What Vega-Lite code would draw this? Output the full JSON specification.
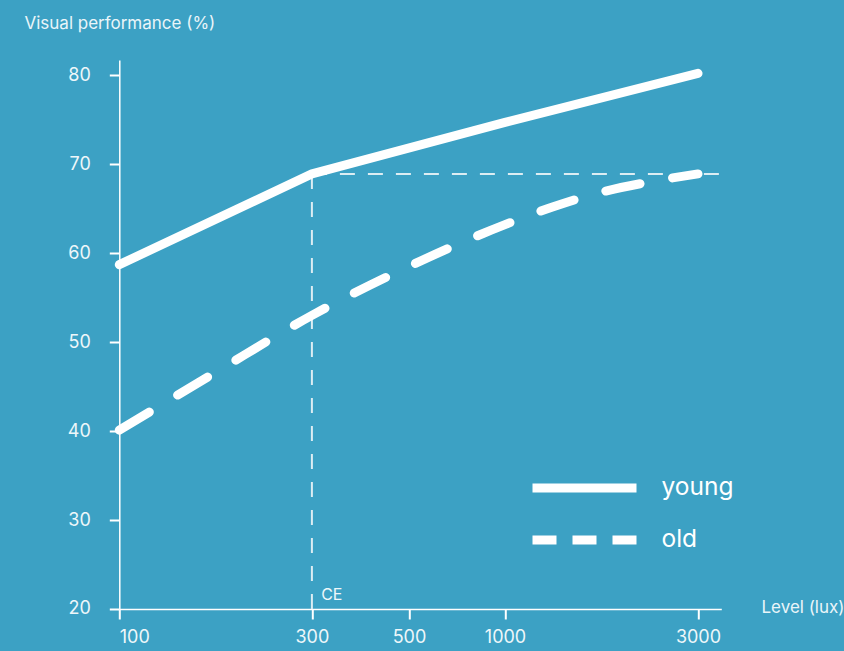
{
  "$schema": "https://vega.github.io/schema/vega-lite/v6.json",
  "width": 602,
  "height": 549,
  "autosize": {"type": "none"},
  "padding": {"left": 119.3, "top": 60, "right": 123, "bottom": 42},
  "background": "#3ca1c4",
  "config": {"view": {"stroke": null}, "font": "Inter"},
  "datasets": {
    "young": [
      {"group": "young", "lux": 100, "perf": 58.7},
      {"group": "young", "lux": 300, "perf": 68.9},
      {"group": "young", "lux": 1000, "perf": 74.7},
      {"group": "young", "lux": 3000, "perf": 80.2}
    ],
    "old": [
      {"group": "old", "lux": 100, "perf": 40.1},
      {"group": "old", "lux": 200, "perf": 46.6},
      {"group": "old", "lux": 300, "perf": 53.0},
      {"group": "old", "lux": 500, "perf": 58.5},
      {"group": "old", "lux": 1000, "perf": 63.2},
      {"group": "old", "lux": 1500, "perf": 65.2},
      {"group": "old", "lux": 2000, "perf": 66.85},
      {"group": "old", "lux": 2500, "perf": 68.0},
      {"group": "old", "lux": 3000, "perf": 68.9}
    ],
    "refs": [{"lux": 300, "lux_end": 3250, "perf": 68.9, "perf_base": 20, "label": "CE"}]
  },
  "layer": [
    {
      "data": {"name": "refs"},
      "mark": {"type": "rule", "stroke": "#dcedf3", "strokeWidth": 2, "strokeDash": [15, 13]},
      "encoding": {
        "x": {
          "field": "lux", "type": "quantitative",
          "scale": {"type": "linear", "domain": [100, 300, 500, 1000, 3000, 3250], "range": [0, 192.6, 289.7, 385.7, 578.7, 602], "nice": false, "zero": false},
          "axis": {
            "values": [100, 300, 500, 1000, 3000], "format": "d",
            "title": "Level (lux)", "titleX": 641.7, "titleY": 4, "titleAlign": "left", "titleBaseline": "alphabetic",
            "titleFontSize": 17, "titleFontWeight": "normal", "titleColor": "#eaf5f9",
            "labelFontSize": 18, "labelColor": "#eef7fa", "labelPadding": 10,
            "tickSize": 10, "tickWidth": 2, "tickColor": "white",
            "domainColor": "white", "domainWidth": 1.5, "grid": false
          }
        },
        "x2": {"field": "lux_end"},
        "y": {
          "field": "perf", "type": "quantitative",
          "scale": {"domain": [20, 81.7], "nice": false, "zero": false},
          "axis": {
            "values": [20, 30, 40, 50, 60, 70, 80],
            "title": "Visual performance (%)", "titleAngle": 0, "titleX": -95.3, "titleY": -32, "titleAlign": "left", "titleBaseline": "alphabetic",
            "titleFontSize": 17, "titleFontWeight": "normal", "titleColor": "#eaf5f9",
            "labelFontSize": 18, "labelColor": "#eef7fa", "labelPadding": 19,
            "tickSize": 10, "tickWidth": 2, "tickColor": "white",
            "domainColor": "white", "domainWidth": 1.5, "grid": false
          }
        }
      }
    },
    {
      "data": {"name": "refs"},
      "mark": {"type": "rule", "stroke": "#dcedf3", "strokeWidth": 2, "strokeDash": [15, 13]},
      "encoding": {
        "x": {"field": "lux", "type": "quantitative"},
        "y": {"field": "perf", "type": "quantitative"},
        "y2": {"field": "perf_base"}
      }
    },
    {
      "data": {"name": "refs"},
      "mark": {"type": "text", "align": "left", "baseline": "middle", "dx": 9.3, "dy": -14, "fontSize": 16, "color": "#eef7fa"},
      "encoding": {
        "x": {"field": "lux", "type": "quantitative"},
        "y": {"field": "perf_base", "type": "quantitative"},
        "text": {"field": "label"}
      }
    },
    {
      "data": {"name": "young"},
      "mark": {"type": "line", "interpolate": "linear", "strokeWidth": 9, "strokeCap": "round", "strokeJoin": "round", "color": "white"},
      "encoding": {
        "x": {"field": "lux", "type": "quantitative"},
        "y": {"field": "perf", "type": "quantitative"}
      }
    },
    {
      "data": {"name": "old"},
      "mark": {"type": "line", "interpolate": "monotone", "strokeWidth": 9, "strokeCap": "round", "strokeJoin": "round", "strokeDash": [35, 33], "color": "white"},
      "encoding": {
        "x": {"field": "lux", "type": "quantitative"},
        "y": {"field": "perf", "type": "quantitative"}
      }
    },
    {
      "data": {"name": "young"},
      "transform": [{"filter": "datum.lux < 0"}],
      "mark": {"type": "line", "strokeWidth": 9, "color": "white"},
      "encoding": {
        "x": {"field": "lux", "type": "quantitative"},
        "y": {"field": "perf", "type": "quantitative"},
        "strokeDash": {
          "field": "group", "type": "nominal",
          "scale": {"domain": ["young", "old"], "range": [[200, 0], [24, 16]]},
          "legend": {
            "orient": "none", "legendX": 408.7, "legendY": 413, "title": null, "padding": 0,
            "symbolType": "stroke", "symbolSize": 10816, "symbolStrokeWidth": 9, "symbolStrokeColor": "white",
            "clipHeight": 30,
            "labelFontSize": 24.5, "labelColor": "white", "labelOffset": 20.5, "rowPadding": 22
          }
        }
      }
    }
  ]
}
